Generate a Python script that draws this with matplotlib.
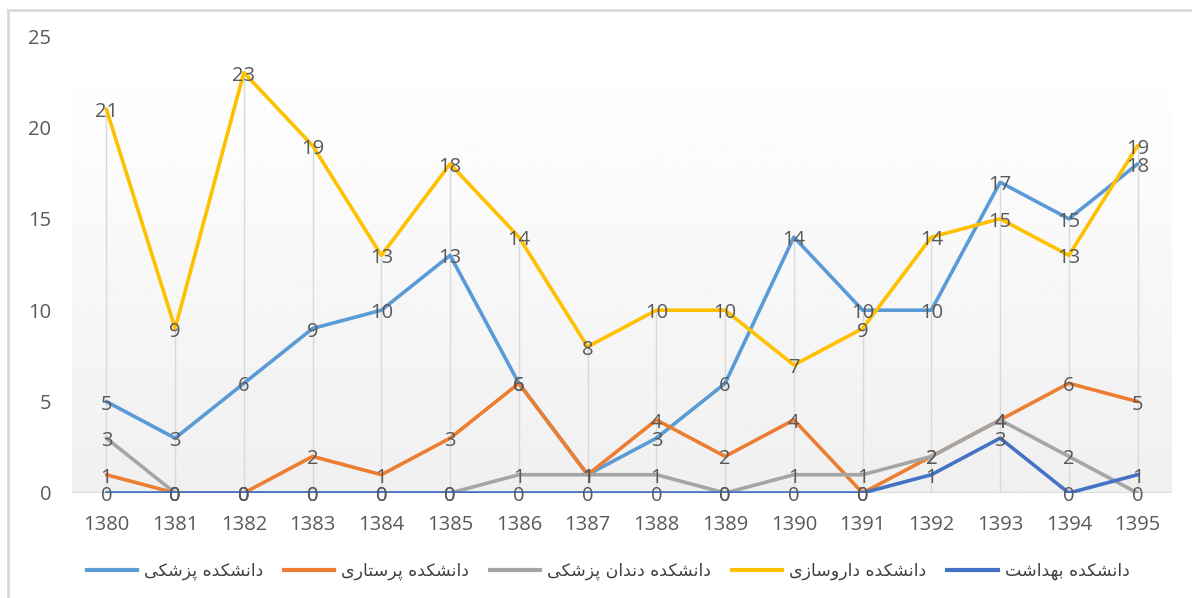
import unicodedata
import numpy as np
import matplotlib.pyplot as plt
from matplotlib.lines import Line2D
from matplotlib.transforms import offset_copy

years = [1380, 1381, 1382, 1383, 1384, 1385, 1386, 1387,
         1388, 1389, 1390, 1391, 1392, 1393, 1394, 1395]
pezeshki = [5, 3, 6, 9, 10, 13, 6, 1, 3, 6, 14, 10, 10, 17, 15, 18]
parastari = [1, 0, 0, 2, 1, 3, 6, 1, 4, 2, 4, 0, 2, 4, 6, 5]
dandan = [3, 0, 0, 0, 0, 0, 1, 1, 1, 0, 1, 1, 2, 4, 2, 0]
darusazi = [21, 9, 23, 19, 13, 18, 14, 8, 10, 10, 7, 9, 14, 15, 13, 19]
behdasht = [0, 0, 0, 0, 0, 0, 0, 0, 0, 0, 0, 0, 1, 3, 0, 1]

names = ['دانشکده پزشکی', 'دانشکده پرستاری', 'دانشکده دندان پزشکی',
         'دانشکده داروسازی', 'دانشکده بهداشت']
colors = ['#5B9BD5', '#ED7D31', '#A5A5A5', '#FFC000', '#4472C4']
series = [pezeshki, parastari, dandan, darusazi, behdasht]

TXT = '#595959'
GRID = '#D9D9D9'


def form(ch, kind):
    try:
        return unicodedata.lookup(unicodedata.name(ch, '') + ' ' + kind + ' FORM')
    except KeyError:
        return None


def shape(text):
    """matplotlib does no Arabic shaping: pick joined forms by hand, then flip for LTR drawing."""
    out = []
    for i, ch in enumerate(text):
        if form(ch, 'ISOLATED') is None:
            out.append(ch)
            continue
        prev = text[i - 1] if i > 0 else ' '
        nxt = text[i + 1] if i + 1 < len(text) else ' '
        a = form(prev, 'INITIAL') is not None
        b = form(ch, 'INITIAL') is not None and form(nxt, 'ISOLATED') is not None
        kind = {(True, True): 'MEDIAL', (True, False): 'FINAL',
                (False, True): 'INITIAL', (False, False): 'ISOLATED'}[(a, b)]
        out.append(form(ch, kind) or ch)
    return ''.join(reversed(out))


W, H = 1192, 598
fig = plt.figure(figsize=(W / 100, H / 100), dpi=100)
ax = fig.add_axes([72 / W, 1 - 493 / H, 1100 / W, 457 / H])
ax.set_facecolor('none')

# gradient plot area
grad = np.linspace(0.94, 0.995, 200).reshape(-1, 1)
ax.imshow(grad, cmap='gray', vmin=0, vmax=1, origin='lower', aspect='auto',
          extent=(1379.5, 1395.5, 0, 22.1), zorder=0)

# drop lines and baseline
maxes = np.max(np.array(series), axis=0)
ax.vlines(years, 0, maxes, color=GRID, lw=1, zorder=1)
ax.axhline(0, color=GRID, lw=1.2, zorder=1)

for vals, c in zip(series, colors):
    ax.plot(years, vals, color=c, lw=2.6, zorder=3, solid_joinstyle='round',
            solid_capstyle='round')

lab_tr = offset_copy(ax.transData, fig=fig, x=0, y=-2.2, units='points')
for vals in series:
    for x, v in zip(years, vals):
        ax.text(x, v, str(v), ha='center', va='center', fontsize=14.5,
                color=TXT, family='Open Sans', zorder=5, transform=lab_tr)

ax.set_xlim(1379.5, 1395.5)
ax.set_ylim(0, 25)
ax.set_xticks(years)
ax.set_yticks([0, 5, 10, 15, 20, 25])
for s in ax.spines.values():
    s.set_visible(False)
ax.tick_params(axis='both', length=0, labelsize=14.5, labelcolor=TXT)
ax.tick_params(axis='y', pad=15)
ax.tick_params(axis='x', pad=16)
for lab in ax.get_xticklabels() + ax.get_yticklabels():
    lab.set_family('Open Sans')

handles = [Line2D([], [], color=c, lw=3) for c in colors]
fig.legend(handles, [shape(n) for n in names], loc='center',
           bbox_to_anchor=(0.51, 1 - 571 / H), ncol=5, frameon=False,
           prop={'family': 'DejaVu Sans', 'size': 12.5}, labelcolor='#404040',
           handlelength=2.9, handletextpad=0.4, columnspacing=1.2)

# outer chart frame (top and left edges visible)
fig.add_artist(Line2D([8 / W, 1], [1 - 10 / H] * 2, color=GRID, lw=2,
                      transform=fig.transFigure))
fig.add_artist(Line2D([8 / W] * 2, [0, 1 - 10 / H], color=GRID, lw=2,
                      transform=fig.transFigure))

fig.savefig('out.png', dpi=100)
